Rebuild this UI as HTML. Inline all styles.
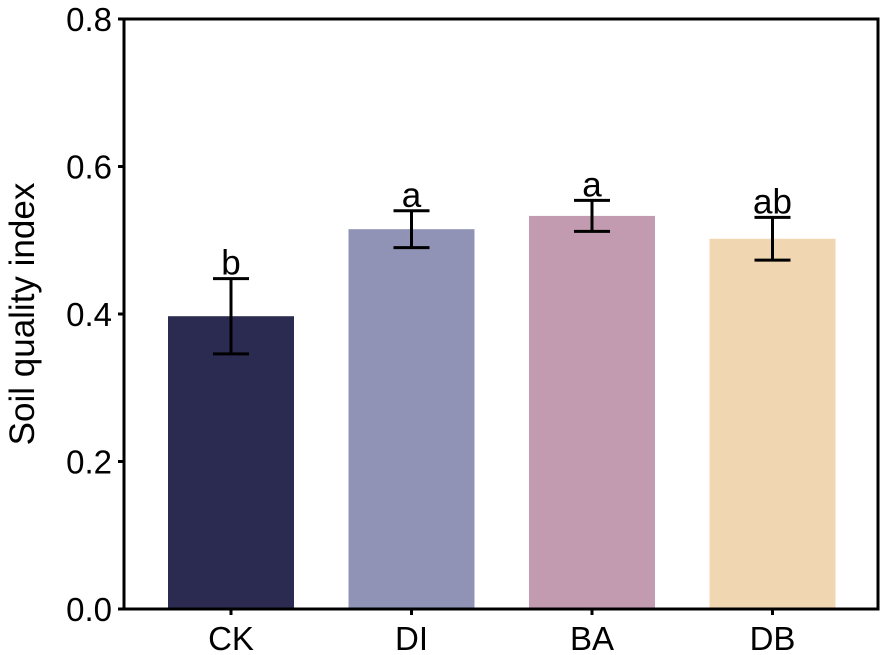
<!DOCTYPE html>
<html><head><meta charset="utf-8"><style>
html,body{margin:0;padding:0;background:#fff;}
svg{display:block;font-family:"Liberation Sans",Arial,sans-serif;}
</style></head><body>
<svg id="chart" width="886" height="655" viewBox="0 0 886 655">
<g id="plot"></g>
</svg>
<script>
const categories = ["CK","DI","BA","DB"];
const values = [0.397, 0.515, 0.533, 0.502];
const errors = [0.051, 0.025, 0.021, 0.029];
const letters = ["b","a","a","ab"];
const colors = ["#2b2a50","#9093b6","#c39bb1","#f1d7b1"];
const yTicks = [0.0, 0.2, 0.4, 0.6, 0.8];
const yTickLabels = ["0.0","0.2","0.4","0.6","0.8"];

const NS = "http://www.w3.org/2000/svg";
const g = document.getElementById("plot");
const L = 124, R = 878, T = 19, B = 609;
const yMax = 0.8;
function y(v){ return B - (v / yMax) * (B - T); }
function xc(i){ return 231 + 180.5 * i; }
const bw = 126;
function mk(tag, attrs){ const e = document.createElementNS(NS, tag); for (const k in attrs) e.setAttribute(k, attrs[k]); g.appendChild(e); return e; }

categories.forEach((c, i) => {
  const cx = xc(i);
  const bar = mk("rect", {x: cx - bw/2, y: y(values[i]), width: bw, height: B - y(values[i]), fill: colors[i]});
  
  
  const hi = y(values[i] + errors[i]), lo = y(values[i] - errors[i]);
  const eg = [
    mk("line", {x1: cx, x2: cx, y1: hi, y2: lo, stroke: "#000", "stroke-width": 3}),
    mk("line", {x1: cx - 18, x2: cx + 18, y1: hi, y2: hi, stroke: "#000", "stroke-width": 3}),
    mk("line", {x1: cx - 18, x2: cx + 18, y1: lo, y2: lo, stroke: "#000", "stroke-width": 3})
  ];
  eg.forEach(e => {
    
    
  });
  const lt = mk("text", {x: cx, y: hi - 4, "text-anchor": "middle", "font-size": 35, fill: "#000"});
  lt.textContent = letters[i];
  
  
  const tk = mk("line", {x1: cx, x2: cx, y1: B, y2: B + 6, stroke: "#000", "stroke-width": 3});
  
  
  const xl = mk("text", {x: cx, y: 650, "text-anchor": "middle", "font-size": 33, fill: "#000"});
  xl.textContent = c;
  
  
});

yTicks.forEach((v, i) => {
  const tk = mk("line", {x1: L - 6, x2: L, y1: y(v), y2: y(v), stroke: "#000", "stroke-width": 3});
  
  
  const tl = mk("text", {x: L - 12, y: y(v) + 12, "text-anchor": "end", "font-size": 33, fill: "#000"});
  tl.textContent = yTickLabels[i];
  
  
});

const frame = mk("rect", {x: L, y: T, width: R - L, height: B - T, fill: "none", stroke: "#000", "stroke-width": 3});



const yt = mk("text", {x: 0, y: 0, "text-anchor": "middle", "font-size": 35, fill: "#000", transform: "translate(34," + ((T + B)/2) + ") rotate(-90)"});
yt.textContent = "Soil quality index";


</script>
</body></html>
